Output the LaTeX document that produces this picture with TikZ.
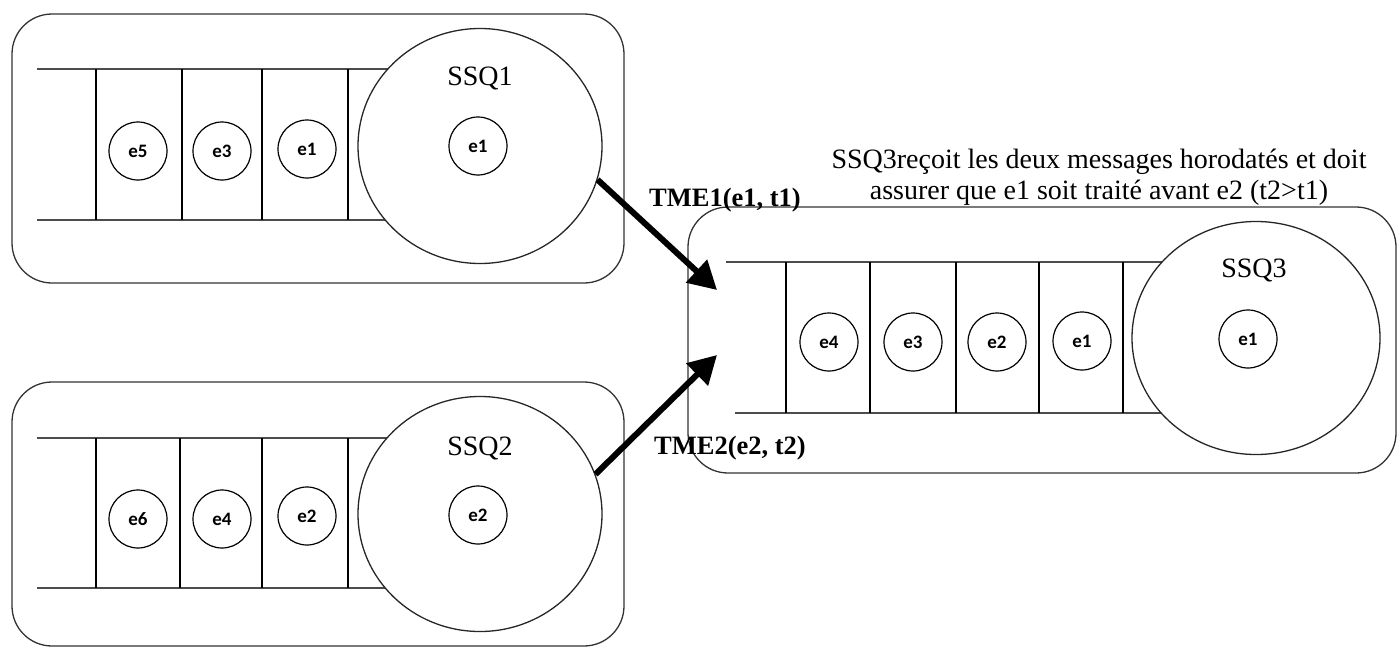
\documentclass[tikz,border=0pt]{standalone}
\usepackage{fontspec}
\setmainfont{Liberation Serif}
\newfontfamily\itemfont{Carlito}
\usetikzlibrary{arrows.meta,shapes.geometric}
\begin{document}
\begin{tikzpicture}[x=1pt,y=-1pt,
  frame/.style={draw=black!80, line width=1.3pt, rounded corners=40pt, rectangle, inner sep=0pt},
  rail/.style={draw=black!70, line width=2.2pt},
  sep/.style={draw=black, line width=1.2pt},
  server/.style={ellipse, draw=black!85, line width=1.3pt, fill=white, inner sep=0pt},
  item/.style={circle, draw=black, line width=1.2pt, minimum size=58pt, inner sep=0pt,
    font=\itemfont\bfseries\fontsize{19}{21}\selectfont},
  title/.style={font=\fontsize{28}{30}\selectfont},
  msg/.style={font=\bfseries\fontsize{26.5}{28}\selectfont},
  note/.style={font=\fontsize{28}{31}\selectfont, align=center},
  flow/.style={line width=6pt, -{Triangle[length=28pt,width=30pt]}}
]
\useasboundingbox (0,0) rectangle (1400,648);

% ---------- SSQ1 ----------
\node[frame, minimum width=612pt, minimum height=269pt] (box1) at (318,148.5) {};
\draw[rail] (37,69) -- (480,69);
\draw[rail] (37,220) -- (480,220);
\foreach \x in {96,182,262,348} \draw[sep] (\x,69) -- (\x,220);
\node[server, minimum width=244pt, minimum height=235pt] (ssq1) at (480,146) {};
\node[title] (l1) at (480,78) {SSQ1};
\node[item] (q1a) at (138,151) {e5};
\node[item] (q1b) at (222,151) {e3};
\node[item] (q1c) at (307,149) {e1};
\node[item] (s1) at (478,146) {e1};

% ---------- SSQ2 ----------
\node[frame, minimum width=612pt, minimum height=264pt] (box2) at (318,514) {};
\draw[rail] (37,438) -- (480,438);
\draw[rail] (37,588) -- (480,588);
\foreach \x in {96,180,262,348} \draw[sep] (\x,438) -- (\x,588);
\node[server, minimum width=244pt, minimum height=235pt] (ssq2) at (480,514) {};
\node[title] (l2) at (480,448) {SSQ2};
\node[item] (q2a) at (138,519) {e6};
\node[item] (q2b) at (222,519) {e4};
\node[item] (q2c) at (307,516) {e2};
\node[item] (s2) at (478,515) {e2};

% ---------- SSQ3 ----------
\node[frame, minimum width=708pt, minimum height=266pt] (box3) at (1042,340) {};
\draw[rail] (726,262) -- (1256,262);
\draw[rail] (735,413) -- (1256,413);
\foreach \x in {786,870,956,1039,1123} \draw[sep] (\x,262) -- (\x,413);
\node[server, minimum width=248pt, minimum height=233pt] (ssq3) at (1256,338) {};
\node[title] (l3) at (1254,270) {SSQ3};
\node[item] (q3a) at (829,342) {e4};
\node[item] (q3b) at (913,342) {e3};
\node[item] (q3c) at (997,342) {e2};
\node[item] (q3d) at (1082,341) {e1};
\node[item] (s3) at (1248,339) {e1};

\node[note] (txt) at (1099,177) {SSQ3reçoit les deux messages horodatés et doit\\assurer que e1 soit traité avant e2 (t2>t1)};

% ---------- messages ----------
\coordinate (in1) at (717,290);
\coordinate (in2) at (717,355);
\draw[flow] (ssq1.-16) -- (in1);
\draw[flow] (ssq2.19) -- (in2);
\node[msg] (m1) at (725,200) {TME1(e1, t1)};
\node[msg] (m2) at (730,448) {TME2(e2, t2)};
\end{tikzpicture}
\end{document}
